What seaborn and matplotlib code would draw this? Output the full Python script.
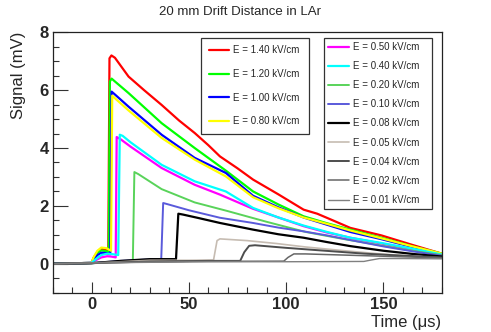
import matplotlib.pyplot as plt
import matplotlib.ticker as mticker
import numpy as np
import seaborn as sns

sns.set_style('ticks')
plt.rcParams['font.family'] = ['Liberation Sans', 'DejaVu Sans']

# field labels (kV/cm) in legend order
fields = ["1.40", "1.20", "1.00", "0.80", "0.50", "0.40", "0.20",
          "0.10", "0.08", "0.05", "0.04", "0.02", "0.01"]
colors = ["#ff0000", "#00ff00", "#0000ff", "#ffff00", "#ff00ff", "#00ffff",
          "#59d35a", "#5a5adb", "#000000", "#c6bcb2", "#4d4d4d", "#666666", "#808080"]
widths = [1.6, 1.6, 1.6, 1.6, 1.6, 1.6, 1.4, 1.4, 1.6, 1.2, 1.4, 1.1, 1.0]

# waveforms: time (us), signal (mV)
t_140 = [-20, 0, 1, 3, 5, 7, 8.6, 9.2, 10.2, 12, 19, 27, 36, 45, 53, 60, 66, 75, 83, 96, 109, 116, 123, 133, 149, 165, 180]
v_140 = [0, 0.03, 0.2, 0.42, 0.52, 0.5, 0.45, 7.1, 7.2, 7.12, 6.47, 6.0, 5.49, 4.95, 4.52, 4.1, 3.71, 3.3, 2.91, 2.4, 1.87, 1.73, 1.53, 1.24, 0.98, 0.65, 0.35]
t_120 = [-20, 0, 1, 3, 5, 7, 8.8, 9.4, 10.3, 12, 19, 36, 53, 69, 83, 96, 109, 121, 133, 149, 165, 180]
v_120 = [0, 0.03, 0.18, 0.38, 0.46, 0.44, 0.4, 6.3, 6.4, 6.3, 5.9, 4.86, 4.0, 3.22, 2.5, 2.05, 1.64, 1.4, 1.18, 0.9, 0.6, 0.35]
t_100 = [-20, 0, 1, 3, 5, 7.5, 9.6, 10.3, 12, 19, 36, 53, 69, 83, 96, 109, 121, 133, 149, 165, 180]
v_100 = [0, 0.03, 0.14, 0.3, 0.38, 0.37, 0.33, 5.95, 5.85, 5.43, 4.46, 3.66, 3.14, 2.35, 1.95, 1.6, 1.35, 1.1, 0.85, 0.58, 0.33]
t_080 = [-20, 0, 1, 3, 5, 7.5, 10, 10.6, 12, 19, 36, 53, 69, 83, 96, 109, 121, 133, 149, 165, 180]
v_080 = [0, 0.03, 0.22, 0.45, 0.56, 0.54, 0.45, 5.81, 5.72, 5.3, 4.35, 3.6, 3.02, 2.3, 1.92, 1.6, 1.38, 1.15, 0.88, 0.6, 0.35]
t_050 = [-20, 0, 2, 5, 8, 10, 12.4, 12.9, 15, 20, 36, 53, 66, 83, 96, 109, 121, 133, 149, 165, 180]
v_050 = [0, 0.03, 0.12, 0.22, 0.26, 0.25, 0.22, 4.38, 4.3, 4.05, 3.31, 2.73, 2.39, 1.9, 1.6, 1.3, 1.08, 0.9, 0.7, 0.5, 0.3]
t_040 = [-20, 0, 2, 5, 8, 11, 13.7, 14.5, 16, 20, 36, 53, 69, 83, 96, 109, 121, 133, 149, 165, 180]
v_040 = [0, 0.03, 0.15, 0.3, 0.35, 0.33, 0.3, 4.46, 4.42, 4.2, 3.42, 2.85, 2.5, 1.93, 1.6, 1.32, 1.1, 0.9, 0.72, 0.52, 0.32]
t_020 = [-20, 0, 10, 20, 21.2, 22, 24, 36, 53, 70, 90, 110, 130, 150, 165, 180]
v_020 = [0, 0.02, 0.06, 0.08, 0.08, 3.17, 3.1, 2.58, 2.12, 1.82, 1.45, 1.1, 0.85, 0.62, 0.45, 0.3]
t_010 = [-20, 0, 15, 30, 35.8, 36.8, 39, 50, 66, 83, 96, 109, 121, 133, 150, 165, 180]
v_010 = [0, 0.02, 0.1, 0.15, 0.15, 2.1, 2.06, 1.85, 1.59, 1.41, 1.25, 1.12, 0.98, 0.82, 0.6, 0.43, 0.28]
t_008 = [-20, 0, 15, 30, 43.4, 44.6, 47, 55, 66, 83, 96, 109, 121, 133, 150, 165, 180]
v_008 = [0, 0.02, 0.1, 0.16, 0.16, 1.73, 1.7, 1.58, 1.41, 1.18, 1.02, 0.9, 0.75, 0.61, 0.45, 0.34, 0.25]
t_005 = [-20, 0, 30, 50, 62.7, 64.5, 66, 80, 95, 110, 130, 150, 180]
v_005 = [0, 0.02, 0.12, 0.12, 0.13, 0.8, 0.86, 0.8, 0.7, 0.58, 0.45, 0.33, 0.2]
t_004 = [-20, 0, 30, 60, 76.4, 78.5, 81, 84, 100, 120, 140, 160, 180]
v_004 = [0, 0.02, 0.08, 0.1, 0.1, 0.4, 0.62, 0.64, 0.55, 0.45, 0.35, 0.28, 0.22]
t_002 = [-20, 0, 50, 98.8, 101, 104, 110, 130, 150, 180]
v_002 = [0, 0.03, 0.08, 0.09, 0.22, 0.34, 0.34, 0.3, 0.26, 0.2]
t_001 = [-20, 0, 60, 100, 140, 143, 148, 160, 180]
v_001 = [0, 0.03, 0.07, 0.07, 0.08, 0.12, 0.18, 0.18, 0.17]

times = [t_140, t_120, t_100, t_080, t_050, t_040, t_020, t_010, t_008, t_005, t_004, t_002, t_001]
signals = [v_140, v_120, v_100, v_080, v_050, v_040, v_020, v_010, v_008, v_005, v_004, v_002, v_001]

fig = plt.figure(figsize=(4.91, 3.32), dpi=100)
ax = fig.add_axes([0.1073, 0.1184, 0.7923, 0.7843])

for f, c, w, t, v in zip(fields, colors, widths, times, signals):
    sns.lineplot(x=np.array(t), y=np.array(v), color=c, lw=w, ax=ax,
                 sort=False, estimator=None, label="E = %s kV/cm" % f)

ax.set_xlim(-20, 180)
ax.set_ylim(-1, 8)
ax.xaxis.set_major_locator(mticker.MultipleLocator(50))
ax.xaxis.set_minor_locator(mticker.MultipleLocator(10))
ax.yaxis.set_major_locator(mticker.MultipleLocator(2))
ax.yaxis.set_minor_locator(mticker.MultipleLocator(0.5))
ax.tick_params(which='both', direction='in', top=False, right=False, width=0.8, color='#333333')
ax.tick_params(which='major', length=8, labelsize=12, pad=3)
ax.tick_params(which='minor', length=4)
ax.tick_params(axis='y', which='major', length=11)
for lab in ax.get_xticklabels() + ax.get_yticklabels():
    lab.set_fontweight('bold')
for s in ax.spines.values():
    s.set_color('#222222')
    s.set_linewidth(0.9)
ax.set_xlabel('')
ax.set_ylabel('')

handles, labels = ax.get_legend_handles_labels()
leg_kw = dict(fontsize=7, frameon=True, fancybox=False, handlelength=2.1,
              handletextpad=0.45, edgecolor='#333333', framealpha=1,
              bbox_transform=fig.transFigure, mode='expand', loc='upper left')
leg1 = ax.legend(handles[:4], labels[:4], labelspacing=1.4, borderpad=0.8,
                 bbox_to_anchor=(196 / 491, 1 - 36 / 332, 118 / 491, 0.01), **leg_kw)
leg1.get_frame().set_linewidth(0.9)
ax.add_artist(leg1)
leg2 = ax.legend(handles[4:], labels[4:], labelspacing=0.94, borderpad=0.45,
                 bbox_to_anchor=(319 / 491, 1 - 36 / 332, 118 / 491, 0.01), **leg_kw)
leg2.get_frame().set_linewidth(0.9)

fig.text(240 / 491, 1 - 12 / 332, '20 mm Drift Distance in LAr', ha='center', va='center', fontsize=9.5)
fig.text(19 / 491, 1 - 32 / 332, 'Signal (mV)', rotation=90, ha='center', va='top', fontsize=12)
fig.text(441 / 491, 1 - 322 / 332, 'Time (μs)', ha='right', va='center', fontsize=12)

fig.savefig('out.png', dpi=100)
